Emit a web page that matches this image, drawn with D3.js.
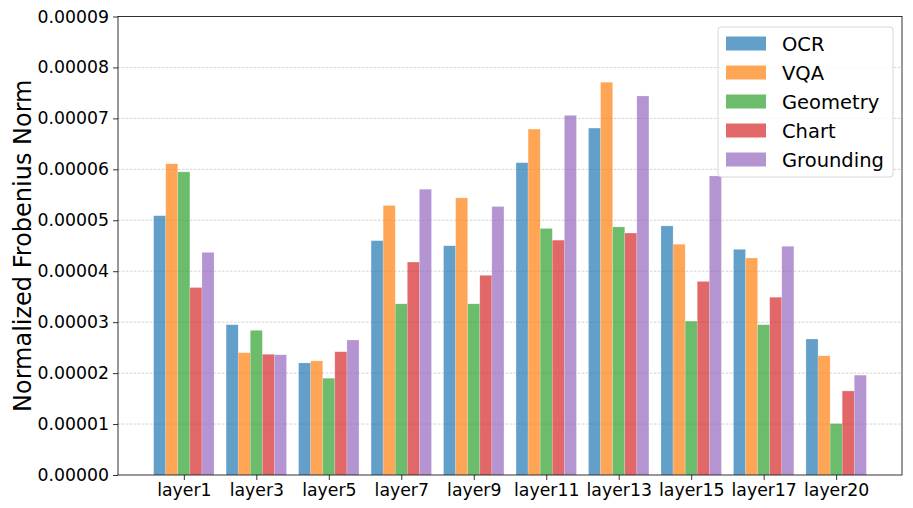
<!DOCTYPE html>
<html><head><meta charset="utf-8">
<script src="https://cdn.jsdelivr.net/npm/d3@7"></script>
<style>body{margin:0;background:#fff}svg{font-family:"DejaVu Sans",sans-serif}</style>
</head><body>
<script>
const categories = ["layer1","layer3","layer5","layer7","layer9","layer11","layer13","layer15","layer17","layer20"];
const seriesNames = ["OCR","VQA","Geometry","Chart","Grounding"];
const OCR = [5.09e-5,2.95e-5,2.20e-5,4.60e-5,4.50e-5,6.13e-5,6.81e-5,4.89e-5,4.43e-5,2.67e-5];
const VQA = [6.11e-5,2.40e-5,2.24e-5,5.29e-5,5.44e-5,6.79e-5,7.71e-5,4.53e-5,4.26e-5,2.34e-5];
const Geometry = [5.95e-5,2.84e-5,1.90e-5,3.36e-5,3.36e-5,4.84e-5,4.87e-5,3.02e-5,2.95e-5,1.01e-5];
const Chart = [3.68e-5,2.37e-5,2.42e-5,4.18e-5,3.92e-5,4.61e-5,4.75e-5,3.80e-5,3.49e-5,1.65e-5];
const Grounding = [4.37e-5,2.36e-5,2.65e-5,5.61e-5,5.27e-5,7.06e-5,7.44e-5,5.87e-5,4.49e-5,1.96e-5];
const yTicks = [0,1e-5,2e-5,3e-5,4e-5,5e-5,6e-5,7e-5,8e-5,9e-5];
const colors = ["#1f77b4","#ff7f0e","#2ca02c","#d62728","#9467bd"];
const series = [OCR,VQA,Geometry,Chart,Grounding];

const W=913,H=508, L=118,R=902,T=16.5,B=475;
const svg=d3.select("body").append("svg").attr("width",W).attr("height",H);
const bw=1/6;
const x=d3.scaleLinear().domain([-0.4167-0.4917, 9.4167+0.4917]).range([L,R]);
const y=d3.scaleLinear().domain([0,9e-5]).range([B,T]);

// grid
svg.append("g").selectAll("line").data(yTicks.slice(1,-1)).join("line")
 .attr("x1",L).attr("x2",R).attr("y1",d=>y(d)).attr("y2",d=>y(d))
 .attr("stroke","#b0b0b0").attr("stroke-width",0.8).attr("stroke-dasharray","2.5,1.5").attr("opacity",0.7);

// bars
series.forEach((vals,si)=>{
  svg.append("g").selectAll("rect").data(vals).join("rect")
   .attr("x",(d,i)=>x(i+(si-2.5)*bw))
   .attr("width",x(bw)-x(0))
   .attr("y",d=>y(d)).attr("height",d=>B-y(d))
   .attr("fill",colors[si]).attr("fill-opacity",0.7)
   .attr("stroke","#fff").attr("stroke-opacity",0.35).attr("stroke-width",0.6);
});

// axes
const yAxis=d3.axisLeft(y).tickValues(yTicks).tickFormat(d3.format(".5f")).tickSize(5).tickPadding(4);
const gy=svg.append("g").attr("transform",`translate(${L},0)`).call(yAxis);
const xAxis=d3.axisBottom(x).tickValues(d3.range(categories.length)).tickFormat(i=>categories[i]).tickSize(5).tickPadding(4);
const gx=svg.append("g").attr("transform",`translate(0,${B})`).call(xAxis);
[gx,gy].forEach(g=>{g.select(".domain").remove();g.selectAll("text").attr("font-size","17.3px").attr("fill","#000").attr("font-family","DejaVu Sans");g.selectAll("line").attr("stroke","#000").attr("stroke-width",0.8);});
svg.append("rect").attr("x",L).attr("y",T).attr("width",R-L).attr("height",B-T).attr("fill","none").attr("stroke","#000").attr("stroke-width",0.8);

svg.append("text").attr("transform",`translate(31,${(T+B)/2}) rotate(-90)`).attr("text-anchor","middle")
 .attr("font-size","24px").text("Normalized Frobenius Norm");

// legend
const lg=svg.append("g");
lg.append("rect").attr("x",718).attr("y",27).attr("width",175).attr("height",150).attr("rx",3)
 .attr("fill","#fff").attr("fill-opacity",0.8).attr("stroke","#ccc").attr("stroke-width",0.8);
seriesNames.forEach((n,i)=>{
  const cy=43.5+i*29;
  lg.append("rect").attr("x",726).attr("y",cy-7).attr("width",40).attr("height",14).attr("fill",colors[i]).attr("fill-opacity",0.7);
  lg.append("text").attr("x",782).attr("y",cy).attr("dy","0.36em").attr("font-size","19.5px").text(n);
});
</script>
</body></html>
